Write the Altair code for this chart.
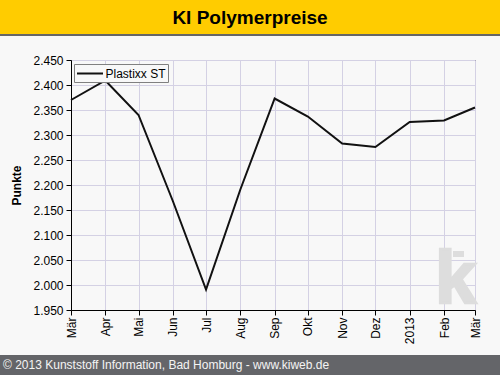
import altair as alt
import pandas as pd

# ---- data ----
dates = ["2012-03-01", "2012-04-01", "2012-05-01", "2012-06-01", "2012-07-01",
         "2012-08-01", "2012-09-01", "2012-10-01", "2012-11-01", "2012-12-01",
         "2013-01-01", "2013-02-01", "2013-03-01"]
values = [2370, 2409, 2340, 2168, 1991, 2191, 2373, 2337, 2283, 2276, 2326, 2329, 2355]
series_name = "Plastixx ST"
month_names = ["Jan", "Feb", "Mär", "Apr", "Mai", "Jun", "Jul", "Aug", "Sep", "Okt", "Nov", "Dez"]
y_ticks = list(range(1950, 2451, 50))
title_text = "KI Polymerpreise"
footer_text = "© 2013 Kunststoff Information, Bad Homburg - www.kiweb.de"
y_title = "Punkte"

df = pd.DataFrame({"date": dates, "value": values, "series": [series_name] * len(dates)})

FONT = "Liberation Sans, Arial, sans-serif"
W, H = 404, 250
PL, PT, PR, PB = 71, 60, 25, 65


def dt(s):
    y, m, d = (int(p) for p in s.split("-"))
    return alt.DateTime(year=y, month=m, date=d, utc=True)


tick_dates = [dt(d) for d in dates]
months_js = "[" + ",".join("'" + m + "'" for m in month_names) + "]"
x_label_expr = ("utcmonth(datum.value) == 0 ? utcFormat(datum.value, '%Y') : "
                + months_js + "[utcmonth(datum.value)]")

line = alt.Chart(df).mark_line(color="#111111", strokeWidth=2).encode(
    x=alt.X("date:T",
            scale=alt.Scale(type="utc", domain=[dt(dates[0]), dt(dates[-1])], nice=False),
            axis=alt.Axis(values=tick_dates, labelExpr=x_label_expr, labelAngle=270,
                          title=None, labelPadding=2)),
    y=alt.Y("value:Q",
            scale=alt.Scale(domain=[y_ticks[0], y_ticks[-1]], nice=False, zero=False),
            axis=alt.Axis(values=y_ticks,
                          labelExpr="replace(format(datum.value, ',d'), ',', '.')",
                          title=y_title, titleFontWeight="bold", titleFontSize=12,
                          titlePadding=9, labelPadding=3)),
    color=alt.Color("series:N",
                    scale=alt.Scale(range=["#111111"]),
                    legend=alt.Legend(title=None, orient="none", legendX=3, legendY=4,
                                      symbolType="M-2,0H2", symbolStrokeWidth=2,
                                      symbolSize=169, symbolOffset=6.5,
                                      labelFontSize=12, labelFont=FONT,
                                      labelColor="#000000", labelOffset=8,
                                      strokeColor="#808080", fillColor="#F8F8F8",
                                      padding=2)),
)

empty = alt.Data(values=[{}])

wm_k = alt.Chart(empty).mark_text(text="k", font="Liberation Sans Narrow, Liberation Sans, Arial",
                                  fontWeight="bold", fontSize=74, color="#DDDDDD",
                                  stroke="#DDDDDD", strokeWidth=2.5,
                                  align="left", baseline="alphabetic").encode(
    x=alt.value(435 - PL), y=alt.value(303 - PT))
wm_dot = alt.Chart(empty).mark_rect(color="#DDDDDD").encode(
    x=alt.value(453 - PL), x2=alt.value(464 - PL), y=alt.value(251 - PT), y2=alt.value(257 - PT))

band = alt.Chart(empty).mark_rect(color="#FFCC00").encode(
    x=alt.value(-PL), x2=alt.value(500 - PL), y=alt.value(-PT), y2=alt.value(34 - PT))
band_line = alt.Chart(empty).mark_rect(color="#666666").encode(
    x=alt.value(-PL), x2=alt.value(500 - PL), y=alt.value(34 - PT), y2=alt.value(36 - PT))
title = alt.Chart(empty).mark_text(text=title_text, font=FONT, fontWeight="bold", fontSize=19,
                                   color="#000000", align="center", baseline="middle").encode(
    x=alt.value(250 - PL), y=alt.value(18 - PT))

footer = alt.Chart(empty).mark_rect(color="#646569").encode(
    x=alt.value(-PL), x2=alt.value(500 - PL), y=alt.value(355 - PT), y2=alt.value(375 - PT))
footer_txt = alt.Chart(empty).mark_text(text=footer_text, font=FONT, fontSize=12,
                                        color="#F4F4F4", align="left", baseline="middle").encode(
    x=alt.value(3 - PL), y=alt.value(365 - PT))

chart = alt.layer(wm_k, wm_dot, line, band, band_line, title, footer, footer_txt).properties(
    width=W, height=H, autosize="none",
    padding={"left": PL, "top": PT, "right": PR, "bottom": PB},
    background="#F8F8F8",
).configure_view(
    stroke="#000000", strokeWidth=1, fill="#F8F8F8"
).configure_axis(
    labelFont=FONT, labelFontSize=12, labelColor="#000000",
    titleFont=FONT, titleColor="#000000",
    domainColor="#000000", tickColor="#000000", tickSize=5,
    gridColor="#D4D1E4", gridOpacity=1, gridWidth=1,
)

chart.save("out.html", embed_options={"renderer": "svg", "actions": False})
